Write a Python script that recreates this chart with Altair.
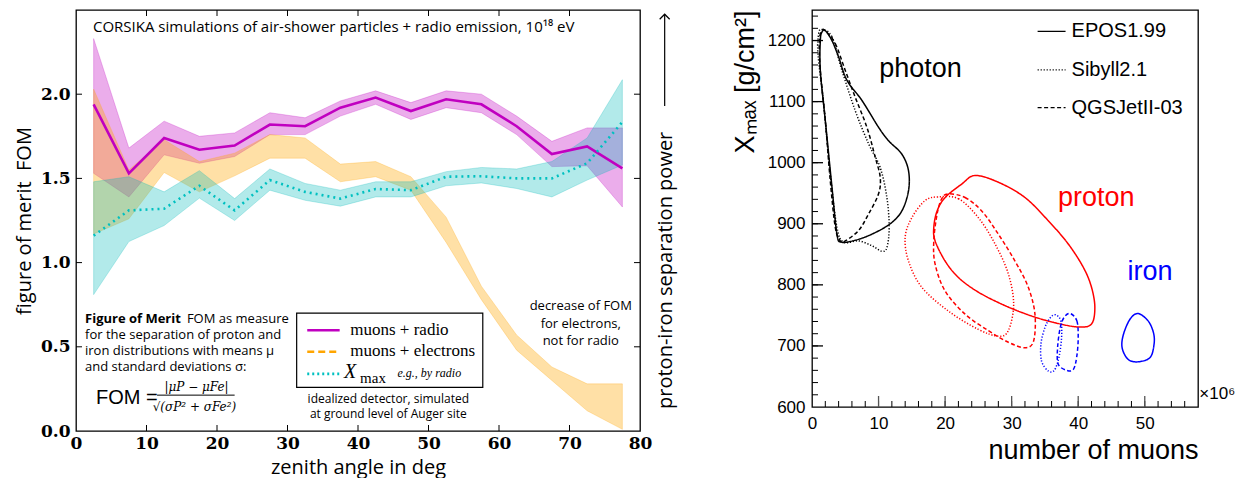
import altair as alt
import pandas as pd

# ---------------- left panel: figure of merit vs zenith angle ----------------
zenith = [2.5, 7.5, 12.5, 17.5, 22.5, 27.5, 32.5, 37.5, 42.5, 47.5, 52.5, 57.5, 62.5, 67.5, 72.5, 77.5]
radio_fom = [1.94, 1.53, 1.74, 1.67, 1.695, 1.82, 1.81, 1.92, 1.98, 1.90, 1.97, 1.94, 1.81, 1.645, 1.69, 1.56]
radio_hi = [2.33, 1.68, 1.84, 1.75, 1.77, 1.89, 1.86, 1.96, 2.02, 1.95, 2.02, 2.00, 1.87, 1.72, 1.80, 1.80]
radio_lo = [1.53, 1.39, 1.64, 1.59, 1.63, 1.76, 1.76, 1.87, 1.94, 1.85, 1.92, 1.89, 1.76, 1.57, 1.575, 1.33]
elec_hi = [2.03, 1.55, 1.73, 1.60, 1.65, 1.76, 1.74, 1.585, 1.60, 1.51, 1.27, 0.86, 0.57, 0.38, 0.28, 0.28]
elec_lo = [1.17, 1.26, 1.535, 1.42, 1.515, 1.62, 1.62, 1.48, 1.51, 1.43, 1.12, 0.78, 0.48, 0.30, 0.12, 0.01]
xmax_fom = [1.16, 1.31, 1.32, 1.456, 1.31, 1.49, 1.42, 1.38, 1.437, 1.43, 1.51, 1.513, 1.50, 1.50, 1.59, 1.835]
xmax_hi = [1.48, 1.51, 1.42, 1.546, 1.38, 1.556, 1.47, 1.43, 1.48, 1.48, 1.54, 1.565, 1.556, 1.60, 1.74, 2.086]
xmax_lo = [0.81, 1.125, 1.22, 1.383, 1.25, 1.43, 1.37, 1.335, 1.39, 1.39, 1.456, 1.473, 1.44, 1.39, 1.49, 1.58]

left_x_labels = [0, 10, 20, 30, 40, 50, 60, 70, 80]
left_y_labels = [0.0, 0.5, 1.0, 1.5, 2.0]
left_x_ticks = [10, 20, 30, 40, 50, 60, 70]
left_y_ticks = [0.5, 1.0, 1.5, 2.0]

# ---------------- right panel: Xmax vs number of muons contours ----------------
photon_epos_x = [2.0, 3.0, 4.0, 5.25, 7.5, 10.0, 11.5, 13.5, 14.5, 14.5, 13.5, 11.75, 9.0, 6.5, 4.4, 3.75, 3.0, 2.0, 1.25, 1.25, 1.5]
photon_epos_y = [1216, 1200, 1173, 1135, 1102, 1058, 1036, 1014, 987, 954, 921, 900, 883, 873, 870, 883, 960, 1069, 1151, 1200, 1214]
photon_qgs_x = [2.0, 3.5, 5.0, 6.5, 8.25, 9.5, 10.25, 10.0, 8.5, 7.0, 5.0, 4.25, 3.5, 2.75, 2.0, 1.25, 1.1, 1.5]
photon_qgs_y = [1216, 1195, 1151, 1107, 1058, 1009, 976, 949, 916, 889, 872, 872, 894, 970, 1069, 1151, 1200, 1216]
photon_sib_x = [1.5, 3.0, 4.5, 6.5, 8.5, 10.25, 11.25, 11.6, 11.25, 10.5, 9.0, 7.0, 4.75, 3.75, 2.75, 1.75, 0.9, 1.0]
photon_sib_y = [1218, 1206, 1151, 1085, 1031, 992, 943, 894, 861, 855, 864, 872, 870, 894, 981, 1096, 1178, 1211]

proton_epos_x = [24.5, 28.0, 32.0, 35.5, 38.5, 40.8, 42.0, 42.5, 42.0, 40.0, 36.5, 33.0, 29.0, 25.0, 22.0, 20.0, 18.5, 18.3, 18.8, 20.0, 22.5]
proton_epos_y = [979, 968, 943, 905, 867, 828, 796, 763, 736, 731, 738, 749, 766, 788, 812, 839, 872, 894, 921, 943, 965]
proton_qgs_x = [20.5, 23.0, 25.5, 28.0, 30.5, 32.5, 33.5, 33.3, 32.0, 29.5, 26.5, 23.0, 20.0, 18.5, 18.3, 18.8, 19.5]
proton_qgs_y = [949, 943, 921, 883, 839, 796, 752, 708, 697, 706, 725, 752, 790, 834, 872, 916, 941]
proton_sib_x = [19.0, 22.0, 25.0, 27.5, 29.5, 30.3, 29.5, 28.0, 25.0, 20.5, 16.5, 14.5, 14.0, 15.0, 17.0]
proton_sib_y = [944, 941, 910, 867, 818, 768, 725, 716, 727, 757, 796, 839, 878, 910, 938]

iron_epos_x = [49.0, 50.5, 51.3, 51.4, 50.8, 49.0, 47.5, 46.6, 46.8, 47.8]
iron_epos_y = [753, 741, 722, 703, 681, 674, 678, 697, 719, 744]
iron_qgs_x = [38.8, 39.8, 40.0, 39.8, 39.3, 38.3, 37.0, 36.9, 37.3, 37.9]
iron_qgs_y = [753, 741, 714, 684, 662, 660, 670, 697, 730, 747]
iron_sib_x = [36.6, 37.4, 37.5, 37.1, 36.4, 35.5, 34.5, 34.4, 35.0, 35.8]
iron_sib_y = [751, 741, 714, 681, 660, 659, 675, 703, 730, 746]

particles = ["photon", "proton", "iron"]
models = ["EPOS1.99", "Sibyll2.1", "QGSJetII-03"]
right_x_labels = [0, 10, 20, 30, 40, 50]
right_y_labels = [600, 700, 800, 900, 1000, 1100, 1200]
right_x_major = [10, 20, 30, 40, 50]
right_x_minor = list(range(2, 58, 2))
right_y_major = [700, 800, 900, 1000, 1100, 1200]
right_y_minor = list(range(620, 1250, 20))

# ---------------- sizes ----------------
WL, HL = 564, 421
WR, HR = 386, 397

xs_l = alt.Scale(domain=[0, 80], nice=False, zero=False)
ys_l = alt.Scale(domain=[0, 2.5], nice=False, zero=False)
xs_r = alt.Scale(domain=[0, 58], nice=False, zero=False)
ys_r = alt.Scale(domain=[600, 1250], nice=False, zero=False)

MAG = "#c000c0"
ORA = "#ffa500"
CYA = "#00b8b8"
CYL = "#00c0c0"

x_axis_l = alt.Axis(values=left_x_labels, ticks=False, domain=False, grid=False,
                    labelFont="DejaVu Serif", labelFontWeight="bold", labelFontSize=17,
                    labelPadding=4, labelFlush=False, labelColor="black",
                    title="zenith angle in deg", titleFont="Open Sans", titleFontSize=20,
                    titleFontWeight="normal", titleColor="black", titlePadding=6)
y_axis_l = alt.Axis(values=left_y_labels, format=".1f", ticks=False, domain=False, grid=False,
                    labelFont="DejaVu Serif", labelFontWeight="bold", labelFontSize=17,
                    labelPadding=6, labelColor="black",
                    title="figure of merit\u00a0\u00a0FOM", titleFont="Open Sans", titleFontSize=20,
                    titleFontWeight="normal", titleColor="black", titlePadding=6)
x_axis_r = alt.Axis(values=right_x_labels, format="d", ticks=False, domain=False, grid=False,
                    labelFont="Liberation Sans", labelFontSize=17, labelPadding=8, labelFlush=False,
                    labelColor="black", title="number of muons", titleFont="Liberation Sans",
                    titleFontSize=27, titleFontWeight="normal", titleColor="black",
                    titleAnchor="end", titlePadding=6)
y_axis_r = alt.Axis(values=right_y_labels, format="d", ticks=False, domain=False, grid=False,
                    labelFont="Liberation Sans", labelFontSize=17, labelPadding=7,
                    labelColor="black", title="Xₘₐₓ [g/cm²]", titleFont="Liberation Sans",
                    titleFontSize=27, titleFontWeight="normal", titleColor="black",
                    titleAnchor="end", titlePadding=8)

LEFT = (xs_l, ys_l, x_axis_l, y_axis_l)
RIGHT = (xs_r, ys_r, x_axis_r, y_axis_r)


def X(field, P):
    return alt.X(field, scale=P[0], axis=P[2])


def Y(field, P):
    return alt.Y(field, scale=P[1], axis=P[3])


def txt(x, y, s, P, **mk):
    df = pd.DataFrame({"x": [x], "y": [y], "s": [s]})
    return alt.Chart(df).mark_text(**mk).encode(x=X("x:Q", P), y=Y("y:Q", P), text="s:N")


def seg(x, x2, y, y2, P, mark):
    df = pd.DataFrame({"x": [x], "x2": [x2], "y": [y], "y2": [y2]})
    return alt.Chart(df).mark_rule(**mark).encode(x=X("x:Q", P), x2="x2:Q", y=Y("y:Q", P), y2="y2:Q")


fom = pd.DataFrame({
    "zenith": zenith, "radio": radio_fom, "radio_lo": radio_lo, "radio_hi": radio_hi,
    "elec_lo": elec_lo, "elec_hi": elec_hi,
    "xmax": xmax_fom, "xmax_lo": xmax_lo, "xmax_hi": xmax_hi,
})

base = alt.Chart(fom)
band_radio = base.mark_area(fill=MAG, fillOpacity=0.32, stroke=MAG, strokeOpacity=0.25, strokeWidth=1).encode(
    x=X("zenith:Q", LEFT), y=Y("radio_lo:Q", LEFT), y2="radio_hi:Q")
band_elec = base.mark_area(fill=ORA, fillOpacity=0.35, stroke=ORA, strokeOpacity=0.25, strokeWidth=1).encode(
    x=X("zenith:Q", LEFT), y=Y("elec_lo:Q", LEFT), y2="elec_hi:Q")
band_xmax = base.mark_area(fill=CYA, fillOpacity=0.3, stroke=CYA, strokeOpacity=0.25, strokeWidth=1).encode(
    x=X("zenith:Q", LEFT), y=Y("xmax_lo:Q", LEFT), y2="xmax_hi:Q")
line_radio = base.mark_line(color=MAG, strokeWidth=2.6).encode(x=X("zenith:Q", LEFT), y=Y("radio:Q", LEFT))
line_xmax = base.mark_line(color=CYL, strokeWidth=2.6, strokeDash=[2, 4]).encode(x=X("zenith:Q", LEFT), y=Y("xmax:Q", LEFT))

lxt = pd.DataFrame({"t": left_x_ticks})
lyt = pd.DataFrame({"t": left_y_ticks})
tick_mark = dict(color="black", strokeWidth=1)
l_ticks = [
    alt.Chart(lxt).mark_rule(**tick_mark).encode(x=X("t:Q", LEFT), y=alt.value(HL), y2=alt.value(HL - 6)),
    alt.Chart(lxt).mark_rule(**tick_mark).encode(x=X("t:Q", LEFT), y=alt.value(0), y2=alt.value(6)),
    alt.Chart(lyt).mark_rule(**tick_mark).encode(y=Y("t:Q", LEFT), x=alt.value(0), x2=alt.value(6)),
    alt.Chart(lyt).mark_rule(**tick_mark).encode(y=Y("t:Q", LEFT), x=alt.value(WL), x2=alt.value(WL - 6)),
]

box_df = pd.DataFrame({"x": [31.3], "x2": [57.7], "y": [0.259], "y2": [0.70]})
leg_box = alt.Chart(box_df).mark_rect(fill="white", stroke="black", strokeWidth=1.2).encode(
    x=X("x:Q", LEFT), x2="x2:Q", y=Y("y:Q", LEFT), y2="y2:Q")
leg_lines = [
    seg(32.8, 37.4, 0.598, 0.598, LEFT, dict(color=MAG, strokeWidth=2.6)),
    seg(32.8, 37.4, 0.471, 0.471, LEFT, dict(color=ORA, strokeWidth=2.6, strokeDash=[7, 4])),
    seg(32.8, 37.4, 0.339, 0.339, LEFT, dict(color=CYL, strokeWidth=2.6, strokeDash=[2, 3])),
]
serif = "Liberation Serif"
leg_txt = [
    txt(38.9, 0.60, "muons + radio", LEFT, font=serif, fontSize=17, align="left", baseline="middle"),
    txt(38.9, 0.473, "muons + electrons", LEFT, font=serif, fontSize=17, align="left", baseline="middle"),
    txt(38.0, 0.35, "X", LEFT, font=serif, fontSize=20, fontStyle="italic", align="left", baseline="middle"),
    txt(40.3, 0.312, "max", LEFT, font=serif, fontSize=15, align="left", baseline="middle"),
    txt(45.6, 0.345, "e.g., by radio", LEFT, font=serif, fontSize=12, fontStyle="italic", align="left", baseline="middle"),
]

sans = "Open Sans"
notes_l = [
    txt(2.41, 2.40, "CORSIKA simulations of air-shower particles + radio emission, 10¹⁸ eV", LEFT,
        font=sans, fontSize=15, align="left", baseline="middle"),
    txt(1.28, 0.668, "Figure of Merit", LEFT, font=sans, fontSize=13, fontWeight="bold", align="left", baseline="middle"),
    txt(30.2, 0.668, "FOM as measure", LEFT, font=sans, fontSize=13, align="right", baseline="middle"),
    txt(1.28, 0.571, "for the separation of proton and", LEFT, font=sans, fontSize=13, align="left", baseline="middle"),
    txt(1.28, 0.477, "iron distributions with means μ", LEFT, font=sans, fontSize=13, align="left", baseline="middle"),
    txt(1.28, 0.381, "and standard deviations σ:", LEFT, font=sans, fontSize=13, align="left", baseline="middle"),
    txt(2.84, 0.195, "FOM =", LEFT, font="Liberation Sans", fontSize=20, align="left", baseline="middle"),
    txt(17.1, 0.262, "|μP − μFe|", LEFT, font="DejaVu Serif", fontSize=12, fontStyle="italic", align="center", baseline="middle"),
    txt(16.8, 0.145, "√(σP² + σFe²)", LEFT, font="DejaVu Serif", fontSize=12, fontStyle="italic", align="center", baseline="middle"),
    seg(11.5, 22.5, 0.213, 0.213, LEFT, dict(color="black", strokeWidth=1)),
    txt(44.3, 0.19, "idealized detector, simulated", LEFT, font=sans, fontSize=12, align="center", baseline="middle"),
    txt(44.3, 0.098, "at ground level of Auger site", LEFT, font=sans, fontSize=12, align="center", baseline="middle"),
    txt(71.6, 0.742, "decrease of FOM", LEFT, font=sans, fontSize=13, align="center", baseline="middle"),
    txt(71.6, 0.638, "for electrons,", LEFT, font=sans, fontSize=13, align="center", baseline="middle"),
    txt(71.6, 0.534, "not for radio", LEFT, font=sans, fontSize=13, align="center", baseline="middle"),
    txt(83.7, 0.954, "proton-iron separation power", LEFT, font=sans, fontSize=20, angle=270,
        align="center", baseline="middle"),
    seg(83.5, 83.5, 1.93, 2.475, LEFT, dict(color="black", strokeWidth=1.2)),
    alt.Chart(pd.DataFrame({"x": [83.5], "y": [2.475]})).mark_point(
        shape="M-1,1L0,0L1,1", filled=False, size=100, stroke="black", strokeWidth=1.2, opacity=1
    ).encode(x=X("x:Q", LEFT), y=Y("y:Q", LEFT)),
]

left = alt.layer(
    band_radio, band_elec, band_xmax, line_radio, line_xmax,
    *l_ticks, leg_box, *leg_lines, *leg_txt, *notes_l,
).properties(width=WL, height=HL)

# ---------------- right panel ----------------
contours = [
    ("photon", "EPOS1.99", photon_epos_x, photon_epos_y),
    ("photon", "QGSJetII-03", photon_qgs_x, photon_qgs_y),
    ("photon", "Sibyll2.1", photon_sib_x, photon_sib_y),
    ("proton", "EPOS1.99", proton_epos_x, proton_epos_y),
    ("proton", "QGSJetII-03", proton_qgs_x, proton_qgs_y),
    ("proton", "Sibyll2.1", proton_sib_x, proton_sib_y),
    ("iron", "EPOS1.99", iron_epos_x, iron_epos_y),
    ("iron", "QGSJetII-03", iron_qgs_x, iron_qgs_y),
    ("iron", "Sibyll2.1", iron_sib_x, iron_sib_y),
]
rows = []
for particle, model, cx, cy in contours:
    for i, (a, b) in enumerate(zip(cx, cy)):
        rows.append({"particle": particle, "model": model, "i": i, "muons": a, "xmax": b})
cdf = pd.DataFrame(rows)

DASHES = [[1, 0], [1.2, 1.8], [4, 2.5]]
lines = alt.Chart(cdf).mark_line(interpolate="cardinal-closed", strokeWidth=1.5).encode(
    x=X("muons:Q", RIGHT),
    y=Y("xmax:Q", RIGHT),
    color=alt.Color("particle:N", scale=alt.Scale(domain=particles, range=["black", "#ff0000", "#0000ff"]), legend=None),
    strokeDash=alt.StrokeDash("model:N", scale=alt.Scale(domain=models, range=DASHES), legend=None),
    order="i:Q",
)

rxM = pd.DataFrame({"t": right_x_major})
rxm = pd.DataFrame({"t": right_x_minor})
ryM = pd.DataFrame({"t": right_y_major})
rym = pd.DataFrame({"t": right_y_minor})
r_ticks = [
    alt.Chart(rxm).mark_rule(**tick_mark).encode(x=X("t:Q", RIGHT), y=alt.value(HR), y2=alt.value(HR - 6)),
    alt.Chart(rxM).mark_rule(color="#555555", strokeWidth=1.3).encode(x=X("t:Q", RIGHT), y=alt.value(HR), y2=alt.value(HR - 11)),
    alt.Chart(rym).mark_rule(**tick_mark).encode(y=Y("t:Q", RIGHT), x=alt.value(0), x2=alt.value(6)),
    alt.Chart(ryM).mark_rule(color="black", strokeWidth=1.3).encode(y=Y("t:Q", RIGHT), x=alt.value(0), x2=alt.value(11)),
]

leg_r = []
for k, (m, yy) in enumerate(zip(models, [1215, 1152, 1090])):
    leg_r.append(seg(33.9, 38.1, yy, yy, RIGHT, dict(color="black", strokeWidth=1.3, strokeDash=DASHES[k])))
    leg_r.append(txt(39.0, yy, m, RIGHT, font="Liberation Sans", fontSize=20, color="black", align="left", baseline="middle"))

notes_r = [
    txt(16.3, 1154, "photon", RIGHT, font="Liberation Sans", fontSize=27, color="black", align="center", baseline="middle"),
    txt(42.7, 943, "proton", RIGHT, font="Liberation Sans", fontSize=27, color="#ff0000", align="center", baseline="middle"),
    txt(50.8, 821, "iron", RIGHT, font="Liberation Sans", fontSize=27, color="#0000ff", align="center", baseline="middle"),
    txt(58.2, 621, "×10⁶", RIGHT, font="Liberation Sans", fontSize=17, color="black", align="left", baseline="middle"),
]

right = alt.layer(lines, *r_ticks, *leg_r, *notes_r).properties(width=WR, height=HR)

chart = alt.hconcat(left, right, spacing=53).configure_view(
    stroke="black", strokeWidth=1.3
).properties(padding={"left": 5, "top": 0, "right": 0, "bottom": 0})

chart.save("out.html", embed_options={"renderer": "svg", "actions": False})
